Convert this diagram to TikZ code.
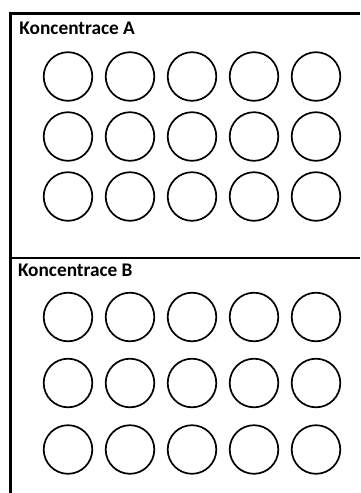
\documentclass[tikz,border=0pt]{standalone}
\usepackage{fontspec}
\usepackage{tikz}
\newfontfamily\calfont{Carlito}

\tikzset{
  well/.style={draw, circle, line width=1.7pt, minimum size=48.6pt, inner sep=0pt},
  rule/.style={line width=2.2pt},
  title/.style={anchor=base west, inner sep=0pt, font=\calfont\bfseries\fontsize{19.3}{21}\selectfont}
}

\begin{document}
\begin{tikzpicture}[x=1pt, y=-1pt]
\useasboundingbox (0,0) rectangle (360,493);
% frame
\coordinate (tl) at (10.5,13.5);
\coordinate (tr) at (360,13.5);
\coordinate (ml) at (10.5,257.7);
\coordinate (mr) at (360,257.7);
\coordinate (bl) at (10.5,493);
\draw[rule] (tr) -- (tl) -- (bl);
\draw[rule] (ml) -- (mr);
% titles
\node[title] (labA) at (19.3,34) {Koncentrace A};
\node[title] (labB) at (17.8,276.7) {Koncentrace B};
% wells
\foreach \c in {1,...,5} {
  \foreach \r/\y in {1/76.5, 2/136.5, 3/196.5}
    \node[well] (a-\r-\c) at ({68+62*(\c-1)},\y) {};
  \foreach \r/\y in {1/317, 2/383, 3/449.5}
    \node[well] (b-\r-\c) at ({68+62*(\c-1)},\y) {};
}
\end{tikzpicture}
\end{document}
